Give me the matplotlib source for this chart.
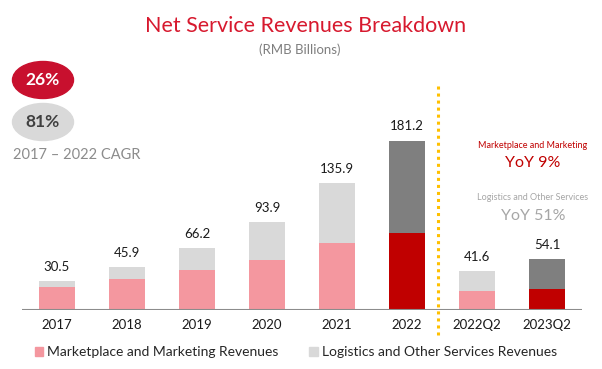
import matplotlib.pyplot as plt
import numpy as np
from matplotlib.patches import Patch, Ellipse
from matplotlib.lines import Line2D

# data (RMB billions)
periods = ['2017', '2018', '2019', '2020', '2021', '2022', '2022Q2', '2023Q2']
marketplace = [25.0, 33.5, 42.7, 53.5, 71.8, 82.4, 20.2, 22.0]
logistics = [5.5, 12.4, 23.5, 40.4, 64.1, 98.8, 21.4, 32.1]
totals = [30.5, 45.9, 66.2, 93.9, 135.9, 181.2, 41.6, 54.1]
highlight = [False, False, False, False, False, True, False, True]

cagr_mkt = '26%'
cagr_log = '81%'
yoy_mkt = 'YoY 9%'
yoy_log = 'YoY 51%'

W, H = 602, 369
plt.rcParams['font.family'] = ['Lato', 'DejaVu Sans']

fig = plt.figure(figsize=(W / 100, H / 100), dpi=100)


def px(x, y):
    # pixel position (from top-left) to figure fraction
    return x / W, 1 - y / H


# axes: baseline at y=310px, bar centres every 70px starting at 57px
ax = fig.add_axes([22 / W, 59 / H, 560 / W, 250 / H])
ax.set_xlim(-0.5, 7.5)
ax.set_ylim(0, 250 / 0.935)
ax.axis('off')

pink, lgrey = '#F4979F', '#D9D9D9'
red, dgrey = '#C00000', '#7F7F7F'
c_mkt = [red if h else pink for h in highlight]
c_log = [dgrey if h else lgrey for h in highlight]

x = np.arange(len(periods))
ax.bar(x, marketplace, width=0.515, color=c_mkt)
ax.bar(x, logistics, width=0.515, bottom=marketplace, color=c_log)
ax.axhline(0, color='#8C8C8C', lw=1.5)

for i, t in enumerate(totals):
    ax.annotate(f'{t:.1f}', (x[i], t), xytext=(0, 6), textcoords='offset points',
                ha='center', va='bottom', fontsize=9.5, color='#1a1a1a')
    fig.text(*px(57 + 70 * i, 325), periods[i], ha='center', va='center',
             fontsize=9.5, color='#1a1a1a')

# dotted separator
fig.add_artist(Line2D([438 / W, 438 / W], [1 - 86 / H, 1 - 335 / H],
                      color='#FFC000', lw=2.2, ls=(0, (1, 1.3))))

# title
fig.text(*px(306, 26), 'Net Service Revenues Breakdown', ha='center', va='center',
         fontsize=15.5, color='#D7192E')
fig.text(*px(300, 50), '(RMB Billions)', ha='center', va='center',
         fontsize=9.5, color='#7F7F7F')

# CAGR bubbles
for cy, fc, tc, txt in [(80, '#C8102E', 'white', cagr_mkt), (122, '#D9D9D9', '#404040', cagr_log)]:
    fig.add_artist(Ellipse(px(43, cy), 61 / W, 37 / H, color=fc,
                           transform=fig.transFigure))
    fig.text(*px(43, cy), txt, ha='center', va='center', fontsize=12.5,
             fontweight='bold', color=tc)
fig.text(*px(13, 155), '2017 \u2013 2022 CAGR', ha='left', va='center',
         fontsize=10.5, color='#8C8C8C')

# YoY notes
fig.text(*px(533, 146), 'Marketplace and Marketing', ha='center', va='center',
         fontsize=6.5, color='#C00000')
fig.text(*px(533, 163), yoy_mkt, ha='center', va='center', fontsize=11.5, color='#C00000')
fig.text(*px(533, 198), 'Logistics and Other Services', ha='center', va='center',
         fontsize=6.5, color='#A6A6A6')
fig.text(*px(533, 216), yoy_log, ha='center', va='center', fontsize=11.5, color='#A6A6A6')

# legend
handles = [Patch(color=pink), Patch(color=lgrey)]
fig.legend(handles, ['Marketplace and Marketing Revenues', 'Logistics and Other Services Revenues'],
           loc='center left', bbox_to_anchor=px(28, 352), ncol=2, frameon=False,
           fontsize=10, handlelength=0.6, handleheight=0.6, handletextpad=0.3,
           columnspacing=2.2, borderpad=0, labelcolor='#262626')

fig.savefig('out.png', dpi=100)
